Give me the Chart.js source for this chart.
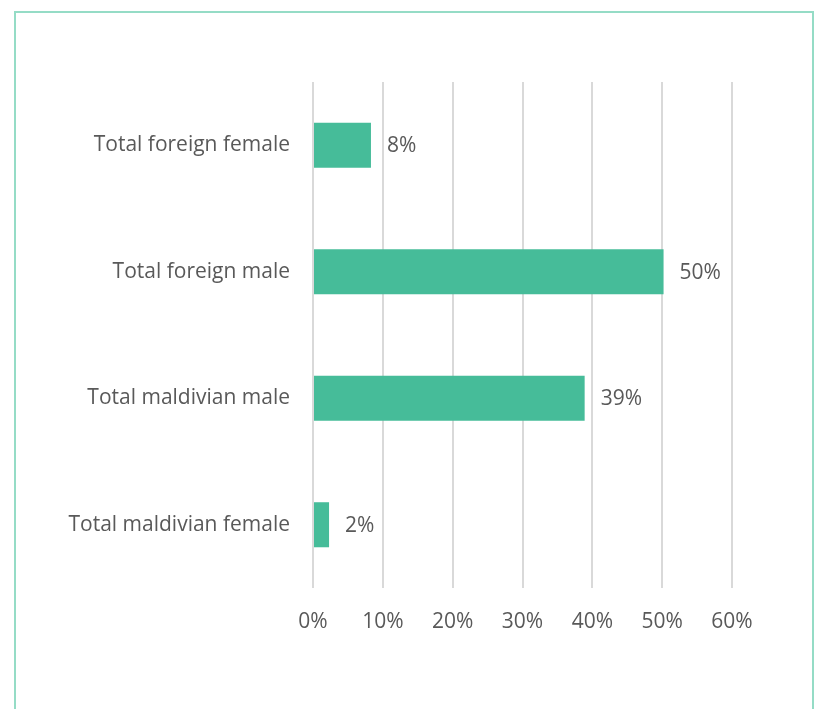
<!DOCTYPE html>
<html>
<head>
<meta charset="utf-8">
<script src="https://cdn.jsdelivr.net/npm/chart.js@4"></script>
<style>
  html, body { margin: 0; padding: 0; background: #fff; }
  #wrap { position: relative; width: 817px; height: 709px; overflow: hidden; }
  #frame { position: absolute; left: 14px; top: 11px; width: 800px; height: 720px;
           border: 2px solid #95dcc6; box-sizing: border-box; }
  #c { position: absolute; left: 0; top: 0; }
</style>
</head>
<body>
<div id="wrap">
  <div id="frame"></div>
  <canvas id="c" width="817" height="709"></canvas>
</div>
<script>
// 카테고리 / 값
const categories = ['Total foreign female', 'Total foreign male', 'Total maldivian male', 'Total maldivian female'];
const shares = [8.3, 50.2, 38.9, 2.3];
const xTicks = [0, 10, 20, 30, 40, 50, 60];

const textColor = '#595959';
const font = { family: '"Open Sans", sans-serif', size: 21 };

// 막대 끝에 값 표시
const valueLabels = {
  id: 'valueLabels',
  afterDatasetsDraw(chart) {
    const ctx = chart.ctx;
    const meta = chart.getDatasetMeta(0);
    ctx.save();
    ctx.font = font.size + 'px ' + font.family;
    ctx.fillStyle = textColor;
    ctx.textAlign = 'left';
    ctx.textBaseline = 'middle';
    meta.data.forEach((bar, i) => {
      ctx.fillText(Math.round(shares[i]) + '%', bar.x + 16, bar.y + 1);
    });
    ctx.restore();
  }
};

new Chart(document.getElementById('c').getContext('2d'), {
  type: 'bar',
  data: {
    labels: categories,
    datasets: [{
      data: shares,
      backgroundColor: '#46bc99',
      categoryPercentage: 1,
      barPercentage: 0.356
    }]
  },
  options: {
    indexAxis: 'y',
    responsive: false,
    animation: false,
    layout: { padding: { top: 82, right: 85, bottom: 61, left: 0 } },
    plugins: { legend: { display: false }, tooltip: { enabled: false } },
    scales: {
      x: {
        min: 0, max: 60,
        afterBuildTicks: s => { s.ticks = xTicks.map(v => ({ value: v })); },
        afterFit: s => { s.height = 60; },
        grid: { color: '#d9d9d9', lineWidth: 2, drawTicks: false },
        border: { display: false },
        ticks: { color: textColor, font: font, padding: 21, callback: v => v + '%' }
      },
      y: {
        afterFit: s => { s.width = 313; },
        grid: { display: false, drawTicks: false },
        border: { display: false },
        ticks: { color: textColor, font: font, padding: 23 }
      }
    }
  },
  plugins: [valueLabels]
});
</script>
</body>
</html>
